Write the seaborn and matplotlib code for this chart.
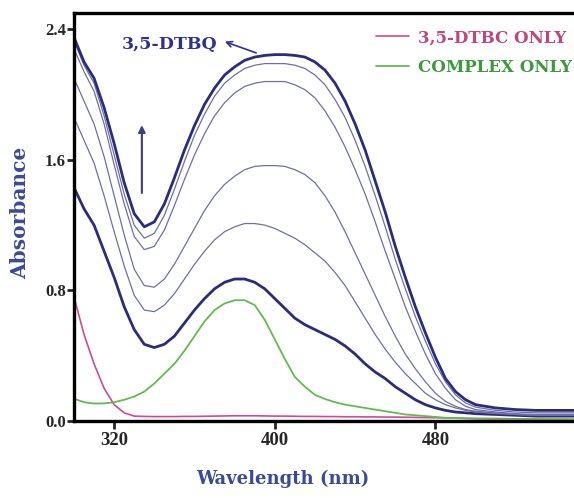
import numpy as np
import pandas as pd
import matplotlib
matplotlib.use("Agg")
import matplotlib.pyplot as plt
import seaborn as sns

# wavelengths (nm) shared by every trace
wavelength = list(range(300, 505, 5)) + [510, 520, 530, 540, 550]

# spectra recorded during the catalytic run (bottom = start, top = end)
scan_1 = [1.43, 1.30, 1.20, 1.04, 0.88, 0.70, 0.56, 0.47, 0.45, 0.47, 0.52, 0.60, 0.68, 0.75,
          0.81, 0.85, 0.87, 0.87, 0.85, 0.81, 0.75, 0.69, 0.63, 0.59, 0.56, 0.53, 0.50, 0.46,
          0.41, 0.35, 0.30, 0.26, 0.21, 0.17, 0.13, 0.10, 0.08, 0.065, 0.055, 0.05, 0.045,
          0.04, 0.035, 0.03, 0.03, 0.03]
scan_2 = [1.86, 1.72, 1.58, 1.38, 1.16, 0.95, 0.77, 0.68, 0.67, 0.71, 0.78, 0.87, 0.96, 1.04,
          1.11, 1.16, 1.19, 1.21, 1.21, 1.20, 1.18, 1.15, 1.12, 1.08, 1.03, 0.98, 0.91, 0.83,
          0.73, 0.63, 0.53, 0.44, 0.36, 0.29, 0.23, 0.17, 0.13, 0.10, 0.08, 0.065, 0.055,
          0.045, 0.04, 0.035, 0.035, 0.035]
scan_3 = [2.10, 1.96, 1.82, 1.62, 1.38, 1.14, 0.93, 0.83, 0.82, 0.87, 0.96, 1.07, 1.18, 1.29,
          1.38, 1.45, 1.50, 1.54, 1.56, 1.565, 1.565, 1.56, 1.54, 1.51, 1.46, 1.38, 1.28, 1.16,
          1.03, 0.90, 0.77, 0.64, 0.52, 0.41, 0.32, 0.24, 0.17, 0.12, 0.09, 0.07, 0.06,
          0.05, 0.04, 0.035, 0.035, 0.035]
scan_4 = [2.28, 2.14, 2.02, 1.82, 1.57, 1.33, 1.13, 1.05, 1.07, 1.17, 1.32, 1.48, 1.63, 1.76,
          1.87, 1.95, 2.01, 2.05, 2.07, 2.08, 2.08, 2.08, 2.06, 2.03, 1.98, 1.90, 1.80, 1.68,
          1.54, 1.39, 1.22, 1.04, 0.87, 0.70, 0.55, 0.41, 0.29, 0.20, 0.13, 0.09, 0.07,
          0.055, 0.045, 0.04, 0.04, 0.04]
scan_5 = [2.33, 2.18, 2.07, 1.87, 1.63, 1.39, 1.20, 1.12, 1.15, 1.26, 1.42, 1.59, 1.75, 1.88,
          1.99, 2.07, 2.12, 2.16, 2.18, 2.19, 2.19, 2.19, 2.18, 2.16, 2.12, 2.06, 1.97, 1.86,
          1.72, 1.56, 1.38, 1.19, 0.99, 0.81, 0.64, 0.49, 0.35, 0.24, 0.16, 0.11, 0.085,
          0.065, 0.055, 0.05, 0.05, 0.05]
scan_6 = [2.35, 2.20, 2.10, 1.92, 1.70, 1.46, 1.27, 1.19, 1.22, 1.33, 1.49, 1.66, 1.81, 1.94,
          2.04, 2.12, 2.17, 2.21, 2.23, 2.24, 2.245, 2.245, 2.24, 2.23, 2.20, 2.15, 2.07, 1.96,
          1.82, 1.66, 1.47, 1.28, 1.07, 0.88, 0.70, 0.54, 0.39, 0.26, 0.18, 0.13, 0.10,
          0.08, 0.07, 0.065, 0.065, 0.065]

# reference spectra
dtbc_only = [0.76, 0.53, 0.35, 0.20, 0.10, 0.05, 0.03, 0.028, 0.027, 0.027, 0.027, 0.028, 0.028,
             0.029, 0.03, 0.031, 0.032, 0.032, 0.032, 0.031, 0.03, 0.03, 0.029, 0.028, 0.028,
             0.027, 0.027, 0.026, 0.026, 0.025, 0.025, 0.024, 0.024, 0.023, 0.022, 0.021, 0.02,
             0.019, 0.018, 0.017, 0.016, 0.015, 0.013, 0.012, 0.011, 0.01]
complex_only = [0.137, 0.115, 0.107, 0.108, 0.115, 0.13, 0.15, 0.18, 0.23, 0.29, 0.35, 0.43,
                0.52, 0.61, 0.68, 0.72, 0.74, 0.74, 0.71, 0.62, 0.50, 0.38, 0.27, 0.21, 0.16,
                0.135, 0.115, 0.10, 0.09, 0.08, 0.07, 0.06, 0.05, 0.04, 0.035, 0.03, 0.025,
                0.02, 0.018, 0.015, 0.013, 0.01, 0.01, 0.01, 0.01, 0.01]

x_ticks = [320, 400, 480]
y_ticks = [0.0, 0.8, 1.6, 2.4]

sns.set_style("ticks")
plt.rcParams['font.family'] = ['Liberation Serif', 'DejaVu Serif']
plt.rcParams['font.weight'] = 'bold'
wide = ['DejaVu Serif']

navy = '#2B2C7C'
thin = '#6E6FA3'
pink = '#CC4A98'
green = '#62BB4E'

fig = plt.figure(figsize=(5.74, 4.98), dpi=100)
ax = fig.add_axes([74 / 574, 77 / 498, 500 / 574, 408 / 498])

scans = [scan_1, scan_2, scan_3, scan_4, scan_5, scan_6]
for i, s in enumerate(scans):
    thick = i in (0, 5)
    sns.lineplot(x=wavelength, y=s, ax=ax, color=navy if thick else thin,
                 linewidth=2.0 if thick else 0.9)

sns.lineplot(x=wavelength, y=dtbc_only, ax=ax, color=pink, linewidth=1.2, label='3,5-DTBC ONLY')
sns.lineplot(x=wavelength, y=complex_only, ax=ax, color=green, linewidth=1.3, label='COMPLEX ONLY')

ax.set_xlim(300, 549)
ax.set_ylim(0, 2.5)
ax.set_xticks(x_ticks)
ax.set_yticks(y_ticks)
ax.set_yticklabels([f'{v:.1f}' for v in y_ticks])
ax.tick_params(axis='y', direction='out', length=5, width=2, labelsize=12, pad=1)
ax.tick_params(axis='x', direction='out', length=6, width=2, labelsize=13.5, pad=2)
for lab in ax.get_xticklabels() + ax.get_yticklabels():
    lab.set_fontweight('bold')

for side in ['left', 'bottom', 'top']:
    ax.spines[side].set_linewidth(2.4)
    ax.spines[side].set_color('black')
ax.spines['right'].set_visible(False)

ax.set_xlabel('Wavelength (nm)', fontsize=13, fontweight='bold', color='#3A4A9A', family=wide)
ax.xaxis.set_label_coords((283 - 74) / 500, -0.12)
ax.set_ylabel('Absorbance', fontsize=14.5, fontweight='bold', color='#3A4A9A', family=wide)
ax.yaxis.set_label_coords(-0.088, 0.51)

# direction of change
ax.annotate('', xy=(333.8, 1.83), xytext=(333.8, 1.38),
            arrowprops=dict(arrowstyle='-|>', color='#3A3C8A', lw=1.5, mutation_scale=10))
ax.text(324, 2.31, '3,5-DTBQ', fontsize=12.5, fontweight='bold', color='#2E3192',
        va='center', family=wide)
ax.annotate('', xy=(373.8, 2.33), xytext=(392, 2.25),
            arrowprops=dict(arrowstyle='->', color='#2E3192', lw=1.2))

leg = ax.legend(loc='upper right', bbox_to_anchor=(0.995, 0.96), frameon=False,
                handlelength=2.0, handletextpad=0.5, labelspacing=0.75,
                borderaxespad=0, borderpad=0,
                prop={'weight': 'bold', 'size': 12, 'family': 'DejaVu Serif'})
for txt, c in zip(leg.get_texts(), ['#C0457F', '#3C9A3C']):
    txt.set_color(c)

fig.savefig('out.png', dpi=100)
